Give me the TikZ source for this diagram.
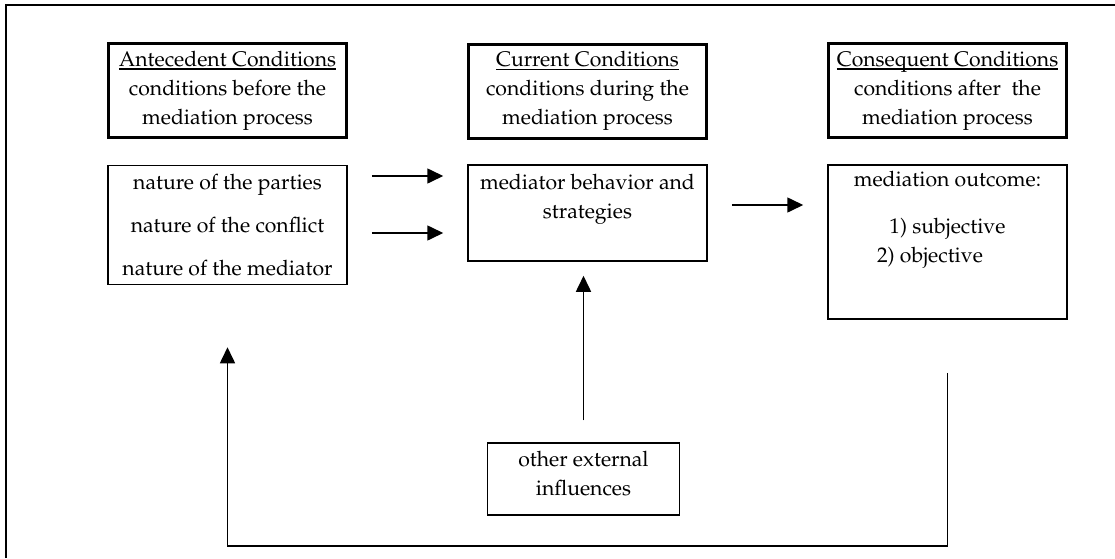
\documentclass[tikz,border=0pt]{standalone}
\usepackage[T1]{fontenc}
\usepackage{mathpazo}
\usetikzlibrary{positioning,arrows.meta}

\newcommand\hdul[1]{\setbox0\hbox{#1}\rlap{\rule[-1.8pt]{\wd0}{0.7pt}}\box0}

\begin{document}
\begin{tikzpicture}[x=0.5pt,y=-0.5pt,
  every node/.style={font=\fontsize{10.6}{14.5}\selectfont, align=center, inner sep=0pt},
  head/.style={draw, line width=1.5pt, minimum width=119pt, minimum height=47pt},
  cbox/.style={draw, line width=0.75pt, minimum width=119.5pt},
  arr/.style={-{Triangle[length=8pt,width=7.5pt]}, line width=0.8pt}]
  \useasboundingbox (0,0) rectangle (1115,558);
  \draw[line width=1pt] (6,558) -- (6,5) -- (1115,5);

  % headers
  \node[head] (ante) at (227.5,90.5) {\hdul{Antecedent Conditions}\\conditions before the\\mediation process};
  \node[head] (curr) at (587.5,91) {\hdul{Current Conditions}\\conditions during the\\mediation process};
  \node[head] (cons) at (947.5,90.5) {\hdul{Consequent Conditions}\\conditions after~ the\\mediation process};

  % boxes
  \node[cbox, minimum height=59.5pt] (list) at (227.5,225) {nature of the parties\\[7pt]nature of the conflict\\[7pt]nature of the mediator};
  \node[cbox, minimum height=47.5pt] (behav) at (587.5,213) {\rule{0pt}{12pt}mediator behavior and\\strategies\rule[-21.5pt]{0pt}{21.5pt}};
  \node[cbox, minimum height=76.5pt] (outc) at (947.5,242) {\rule{0pt}{10.5pt}mediation outcome:\\[9pt]1) subjective\hspace*{16pt}\\2) objective\hspace*{17.5pt}\rule[-28.5pt]{0pt}{28.5pt}};
  \node[cbox, minimum width=96pt, minimum height=36pt] (ext) at (583.5,479) {other external\\influences\rule[-5.5pt]{0pt}{5.5pt}};

  % arrows
  \draw[arr, shorten <=12pt, shorten >=12pt] (list.east |- 0,176) -- (behav.west |- 0,176);
  \draw[arr, shorten <=12pt, shorten >=12pt] (list.east |- 0,233) -- (behav.west |- 0,233);
  \draw[arr, shorten <=12pt, shorten >=12pt] (behav.east |- 0,205) -- (outc.west |- 0,205);
  \draw[arr, shorten <=11pt, shorten >=7pt] (ext.north) -- (behav.south -| ext.north);
  \draw[arr, shorten <=26.5pt, shorten >=31pt] (outc.south) -- ++(0,226) -| (list.south);
\end{tikzpicture}
\end{document}
